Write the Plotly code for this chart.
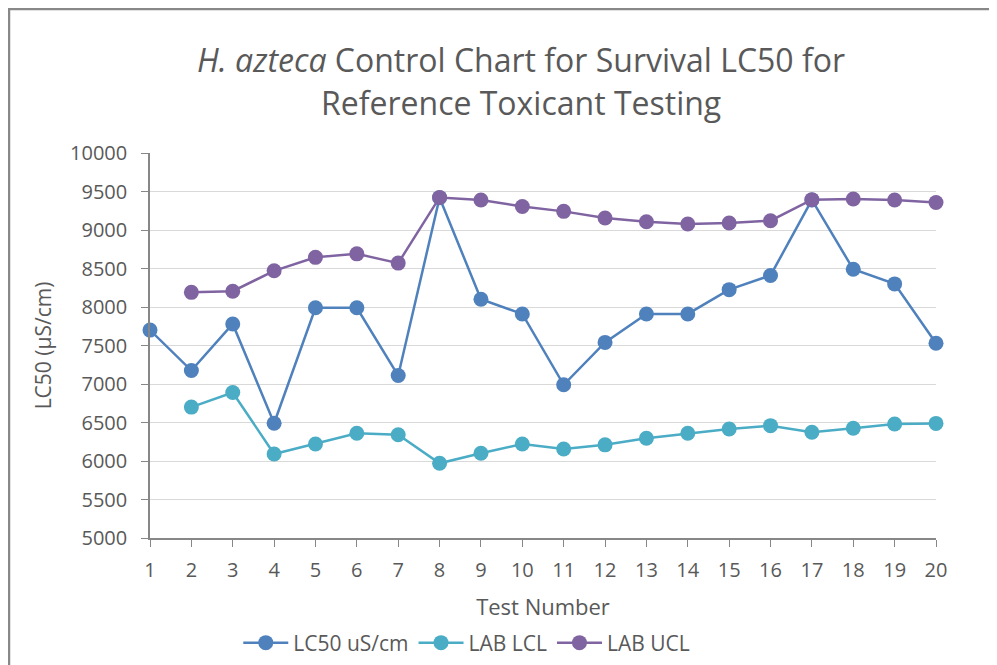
import plotly.graph_objects as go

tests = list(range(1, 21))
lc50 = [7700, 7175, 7780, 6490, 7990, 7990, 7110, 9420, 8100, 7910,
        6990, 7540, 7910, 7910, 8225, 8410, 9390, 8490, 8300, 7530]
lab_lcl = [None, 6700, 6890, 6090, 6220, 6360, 6340, 5970, 6100, 6220,
           6155, 6210, 6295, 6360, 6416, 6459, 6373, 6425, 6481, 6488]
lab_ucl = [None, 8190, 8205, 8470, 8645, 8690, 8570, 9423, 9390, 9306,
           9242, 9156, 9108, 9078, 9091, 9121, 9394, 9403, 9390, 9358]
y_ticks = list(range(5000, 10001, 500))
y_ticktext = [str(v) for v in y_ticks]
title_lines = ["<i>H. azteca</i> Control Chart for Survival LC50 for",
               "Reference Toxicant Testing"]

FONT = "Open Sans, Lato, sans-serif"
GRAY = "#595959"

fig = go.Figure()
for name, vals, col in [("LC50 uS/cm", lc50, "#4F81BD"),
                        ("LAB LCL", lab_lcl, "#4BACC6"),
                        ("LAB UCL", lab_ucl, "#8064A2")]:
    fig.add_trace(go.Scatter(x=tests, y=vals, name=name, mode="lines+markers",
                             line=dict(color=col, width=2.5),
                             marker=dict(color=col, size=15),
                             cliponaxis=False))

annotations = []
for txt, yp in zip(title_lines, [1.2416, 1.1299]):
    annotations.append(dict(text=txt, xref="paper", yref="paper", x=0.472, y=yp,
                            xanchor="center", yanchor="middle", showarrow=False,
                            font=dict(family=FONT, size=32, color=GRAY)))

fig.update_layout(
    width=989, height=657,
    margin=dict(l=142, r=61, t=145, b=127, autoexpand=False),
    paper_bgcolor="white", plot_bgcolor="white",
    font=dict(family=FONT, color=GRAY, size=18),
    annotations=annotations,
    xaxis=dict(range=[1, 20], tickvals=tests, ticktext=[str(t) for t in tests],
               showgrid=False, zeroline=False,
               showline=True, linecolor="#878787", linewidth=1.5,
               ticks="outside", ticklen=7, tickcolor="#878787",
               ticklabelstandoff=6,
               tickfont=dict(size=20, color=GRAY),
               title=dict(text="Test Number", font=dict(size=22, color=GRAY), standoff=18)),
    yaxis=dict(range=[5000, 10000], tickvals=y_ticks, ticktext=y_ticktext,
               showgrid=True, gridcolor="#D9D9D9", gridwidth=1.2, zeroline=False,
               showline=True, linecolor="#878787", linewidth=1.5,
               ticks="outside", ticklen=7, tickcolor="#878787",
               ticklabelstandoff=10,
               tickfont=dict(size=20, color=GRAY),
               title=dict(text="LC50 (µS/cm)", font=dict(size=21, color=GRAY), standoff=13)),
    legend=dict(orientation="h", x=0.403, xanchor="center", y=-0.2727, yanchor="middle",
                font=dict(size=21, color=GRAY), itemwidth=45),
    showlegend=True,
    shapes=[dict(type="rect", xref="paper", yref="paper",
                 x0=-0.1794, x1=1.2, y0=-0.6, y1=1.374,
                 line=dict(color="#888888", width=2.5), layer="below")],
)

fig.write_html("out.html")
